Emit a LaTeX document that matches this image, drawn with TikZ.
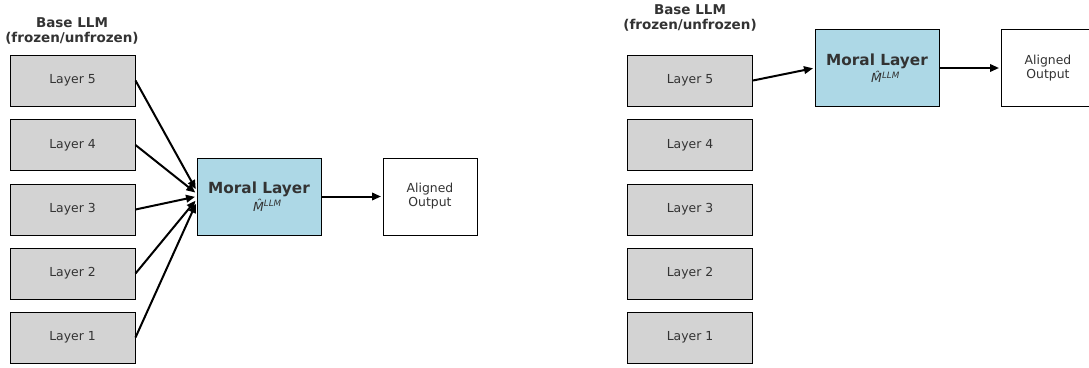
\documentclass[tikz,border=0pt]{standalone}
\usepackage{fontspec}
\setmainfont{DejaVu Sans}
\usetikzlibrary{arrows.meta}
\definecolor{layergray}{HTML}{D3D3D3}
\definecolor{moralblue}{HTML}{ADD8E6}
\definecolor{txtgray}{HTML}{333333}

\begin{document}
\begin{tikzpicture}[
	x=1pt, y=-1pt,
	layer/.style={draw, rectangle, fill=layergray, minimum width=125pt, minimum height=51pt, inner sep=0pt, line width=1pt, text=txtgray, font=\fontsize{12.4}{14}\selectfont},
	moral/.style={draw, rectangle, fill=moralblue, minimum width=124pt, minimum height=77pt, inner sep=0pt, line width=1pt, align=center, text=txtgray},
	outbox/.style={draw, rectangle, fill=white, minimum width=94pt, minimum height=77pt, inner sep=0pt, line width=1pt, align=center, text=txtgray, font=\fontsize{12.4}{14}\selectfont},
	title/.style={align=center, text=txtgray, font=\bfseries\fontsize{13.5}{15}\selectfont},
	>={Triangle[length=9pt,width=7.5pt]}
	]
	\useasboundingbox (0,0) rectangle (1089,367);
	
	%-----------------------
	% Layer rows (shared heights)
	%-----------------------
	\def\hfive{80.5}
	\def\hfour{145}
	\def\hthree{209.5}
	\def\htwo{273.5}
	\def\hone{337.5}
	
	%-----------------------
	% Left panel: all layers feed the moral layer
	%-----------------------
	\node[title] (titleA) at (72,30.5) {Base LLM\\(frozen/unfrozen)};
	
	\node[layer] (A5) at (72.5,\hfive)  {Layer 5};
	\node[layer] (A4) at (72.5,\hfour)  {Layer 4};
	\node[layer] (A3) at (72.5,\hthree) {Layer 3};
	\node[layer] (A2) at (72.5,\htwo)   {Layer 2};
	\node[layer] (A1) at (72.5,\hone)   {Layer 1};
	
	\node[moral] (moralA) at (259,196.5) {{\bfseries\fontsize{15.3}{16}\selectfont Moral Layer}\\[1.5pt]{\hspace*{17pt}\itshape\fontsize{12.5}{13}\selectfont \^{M}\textsuperscript{LLM}}};
	\node[outbox] (outA) at (430,196.5) {Aligned\\Output};
	
	%-----------------------
	% Right panel: only the top layer feeds the moral layer
	%-----------------------
	\node[title] (titleB) at (690,17.5) {Base LLM\\(frozen/unfrozen)};
	
	\node[layer] (B5) at (690,\hfive)  {Layer 5};
	\node[layer] (B4) at (690,\hfour)  {Layer 4};
	\node[layer] (B3) at (690,\hthree) {Layer 3};
	\node[layer] (B2) at (690,\htwo)   {Layer 2};
	\node[layer] (B1) at (690,\hone)   {Layer 1};
	
	\node[moral] (moralB) at (877,68) {{\bfseries\fontsize{15.3}{16}\selectfont Moral Layer}\\[1.5pt]{\hspace*{17pt}\itshape\fontsize{12.5}{13}\selectfont \^{M}\textsuperscript{LLM}}};
	\node[outbox] (outB) at (1048,68) {Aligned\\Output};
	
	%-----------------------
	% Connections
	%-----------------------
	\tikzset{connect/.style={->, line width=2pt, shorten >=1.5pt}}
	
	% layers -> moral layer (left)
	\draw[connect] (A5.east) -- ([yshift=6pt]moralA.west);
	\draw[connect] (A4.east) -- ([yshift=3pt]moralA.west);
	\draw[connect] (A3.east) -- (moralA.west);
	\draw[connect] (A2.east) -- ([yshift=-3pt]moralA.west);
	\draw[connect] (A1.east) -- ([yshift=-6pt]moralA.west);
	
	% moral layer -> output (left)
	\draw[connect] (moralA.east) -- (outA.west);
	
	% top layer -> moral layer -> output (right)
	\draw[connect] (B5.east) -- (moralB.west);
	\draw[connect] (moralB.east) -- (outB.west);
	
\end{tikzpicture}
\end{document}
